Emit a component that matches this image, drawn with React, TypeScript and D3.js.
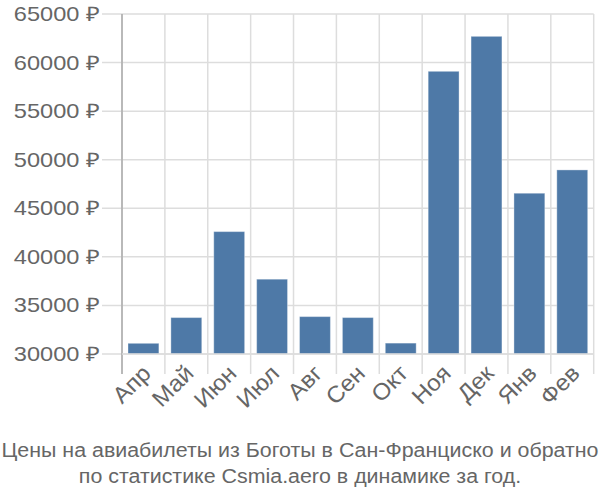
import React from "react";
import * as d3 from "d3";

const months = ["Апр", "Май", "Июн", "Июл", "Авг", "Сен", "Окт", "Ноя", "Дек", "Янв", "Фев"];
const prices = [31100, 33750, 42600, 37700, 33850, 33750, 31120, 59100, 62700, 46550, 48950];
const yTicks = [30000, 35000, 40000, 45000, 50000, 55000, 60000, 65000];
const titleLines = [
  "Цены на авиабилеты из Боготы в Сан-Франциско и обратно",
  "по статистике Csmia.aero в динамике за год.",
];

export default function App() {
  const W = 600, H = 500;
  const left = 122, right = 593.7, top = 14, bottom = 354;
  const x = d3.scaleBand<string>().domain(months).range([left, right]).paddingInner(0.28).paddingOuter(0.14);
  const step = x.step();
  const y = d3.scaleLinear().domain([30000, 65000]).range([bottom, top]);
  const font = "'Liberation Sans', Arial, sans-serif";
  const gridColor = "#dddddd";
  const textColor = "#666666";
  const gridXs = months.map((_, i) => left + i * step).concat([right]);
  return (
    <svg width={W} height={H} style={{ position: "absolute", left: 0, top: 0 }} fontFamily={font}>
      {yTicks.map((t) => (
        <g key={t}>
          <line x1={102} x2={right} y1={y(t)} y2={y(t)} stroke={gridColor} strokeWidth={1.5} />
          <text
            transform={`translate(100,${y(t)}) scale(1.18,1)`}
            dy="0.35em"
            textAnchor="end"
            fontSize={20}
            fill={textColor}
          >
            {t} ₽
          </text>
        </g>
      ))}
      {gridXs.map((gx, i) => (
        <line key={i} x1={gx} x2={gx} y1={top} y2={374} stroke={gridColor} strokeWidth={1.5} />
      ))}
      {months.map((m, i) => (
        <rect
          key={m}
          x={x(m)}
          y={y(prices[i])}
          width={x.bandwidth()}
          height={bottom - y(prices[i])}
          fill="#4e79a7"
          stroke="rgba(255,255,255,0.35)"
          strokeWidth={1}
        />
      ))}
      <line x1={left} x2={left} y1={top} y2={374} stroke="#aaaaaa" strokeWidth={1.5} />
      <line x1={left} x2={right} y1={bottom} y2={bottom} stroke={gridColor} strokeWidth={1.5} />
      {months.map((m) => {
        const cx = (x(m) as number) + x.bandwidth() / 2 + 3;
        const cy = 369;
        return (
          <text
            key={m}
            transform={`translate(${cx},${cy}) rotate(-45) scale(1.05,1)`}
            textAnchor="end"
            dy="0.35em"
            fontSize={23}
            fill={textColor}
          >
            {m}
          </text>
        );
      })}
      {titleLines.map((l, i) => (
        <text
          key={i}
          transform={`translate(${W / 2},${457 + i * 26}) scale(1.07,1)`}
          textAnchor="middle"
          fontSize={20}
          fill={textColor}
        >
          {l}
        </text>
      ))}
    </svg>
  );
}
